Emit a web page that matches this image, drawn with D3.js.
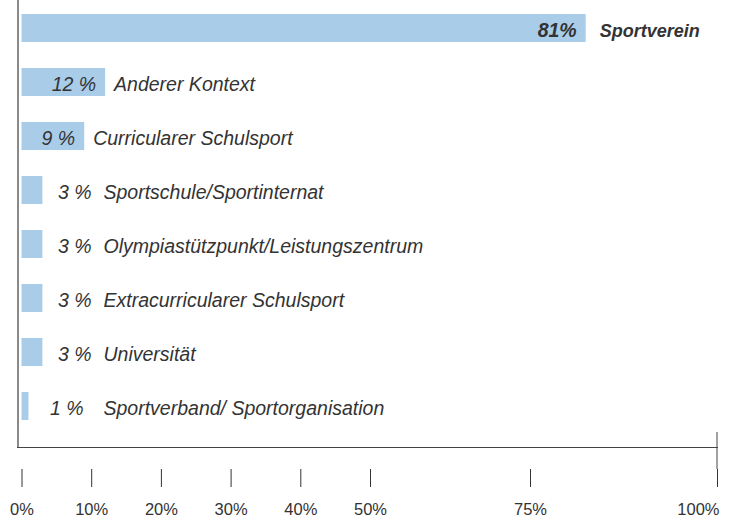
<!DOCTYPE html>
<html>
<head>
<meta charset="utf-8">
<script src="https://cdn.jsdelivr.net/npm/d3@7"></script>
<style>
  body { margin: 0; background: #fff; }
  svg text { font-family: "Liberation Sans", Arial, sans-serif; fill: #333; }
</style>
</head>
<body>
<div id="chart"></div>
<script>
const categories = [
  "Sportverein",
  "Anderer Kontext",
  "Curricularer Schulsport",
  "Sportschule/Sportinternat",
  "Olympiastützpunkt/Leistungszentrum",
  "Extracurricularer Schulsport",
  "Universität",
  "Sportverband/ Sportorganisation"
];
const values = [81, 12, 9, 3, 3, 3, 3, 1];
const valueLabels = ["81%", "12 %", "9 %", "3 %", "3 %", "3 %", "3 %", "1 %"];
const tickValues = [0, 10, 20, 30, 40, 50, 75, 100];
const tickLabels = ["0%", "10%", "20%", "30%", "40%", "50%", "75%", "100%"];

const WIDTH = 734, HEIGHT = 520;
const svg = d3.select("#chart").append("svg").attr("width", WIDTH).attr("height", HEIGHT);

// bars use a plain linear scale
const x = d3.scaleLinear().domain([0, 100]).range([21.5, 718]);
// the printed axis is not linear above 50%
const xAxisScale = d3.scaleLinear().domain([0, 50, 75, 100]).range([21.5, 370, 530, 717]);

const y = d3.scaleBand()
  .domain(categories)
  .range([0, 434])
  .paddingInner(26 / 54)
  .paddingOuter(14 / 54);

const rows = categories.map((c, i) => ({ cat: c, v: values[i], lab: valueLabels[i], top: i === 0 }));

// frame
svg.append("line")
  .attr("x1", 18).attr("x2", 18).attr("y1", 0).attr("y2", 447.5)
  .attr("stroke", "#8a8a8a").attr("stroke-width", 2);
svg.append("line")
  .attr("x1", 17).attr("x2", xAxisScale(100) + 1).attr("y1", 447.5).attr("y2", 447.5)
  .attr("stroke", "#444").attr("stroke-width", 1);
svg.append("line")
  .attr("x1", xAxisScale(100)).attr("x2", xAxisScale(100)).attr("y1", 432).attr("y2", 469)
  .attr("stroke", "#444").attr("stroke-width", 1);

svg.selectAll("rect.bar")
  .data(rows)
  .join("rect")
  .attr("class", "bar")
  .attr("x", x(0))
  .attr("y", d => y(d.cat))
  .attr("width", d => x(d.v) - x(0))
  .attr("height", y.bandwidth())
  .attr("fill", "#a9cce9");

const wide = d => d.v >= 5;

svg.selectAll("text.val")
  .data(rows)
  .join("text")
  .attr("class", "val")
  .attr("x", d => wide(d) ? x(d.v) - 9 : x(0) + 58 + d.v * 4)
  .attr("y", d => y(d.cat) + y.bandwidth() / 2 + 8.5)
  .attr("text-anchor", "end")
  .style("font-size", "19.5px")
  .style("font-style", "italic")
  .style("font-weight", d => d.top ? "bold" : "normal")
  .text(d => d.lab);

svg.selectAll("text.cat")
  .data(rows)
  .join("text")
  .attr("class", "cat")
  .attr("x", d => wide(d) ? x(d.v) + (d.top ? 14 : 9) : x(0) + 82)
  .attr("y", d => y(d.cat) + y.bandwidth() / 2 + 8.5)
  .style("font-size", d => d.top ? "18px" : "19.5px")
  .style("font-style", "italic")
  .style("font-weight", d => d.top ? "bold" : "normal")
  .text(d => d.cat);

// axis ticks and labels
const axis = svg.append("g")
  .attr("transform", "translate(0, 469)")
  .call(d3.axisBottom(xAxisScale)
    .tickValues(tickValues)
    .tickSize(18)
    .tickFormat((d, i) => tickLabels[i]));

axis.select(".domain").remove();
axis.selectAll(".tick line").attr("stroke", "#333");
axis.selectAll(".tick text")
  .attr("y", 46)
  .attr("dy", 0)
  .style("font-size", "16.5px")
  .attr("fill", "#333")
  .attr("text-anchor", d => d === 100 ? "end" : "middle")
  .attr("dx", d => d === 100 ? 2 : 0);
axis.attr("font-family", null).attr("font-size", null);
</script>
</body>
</html>
